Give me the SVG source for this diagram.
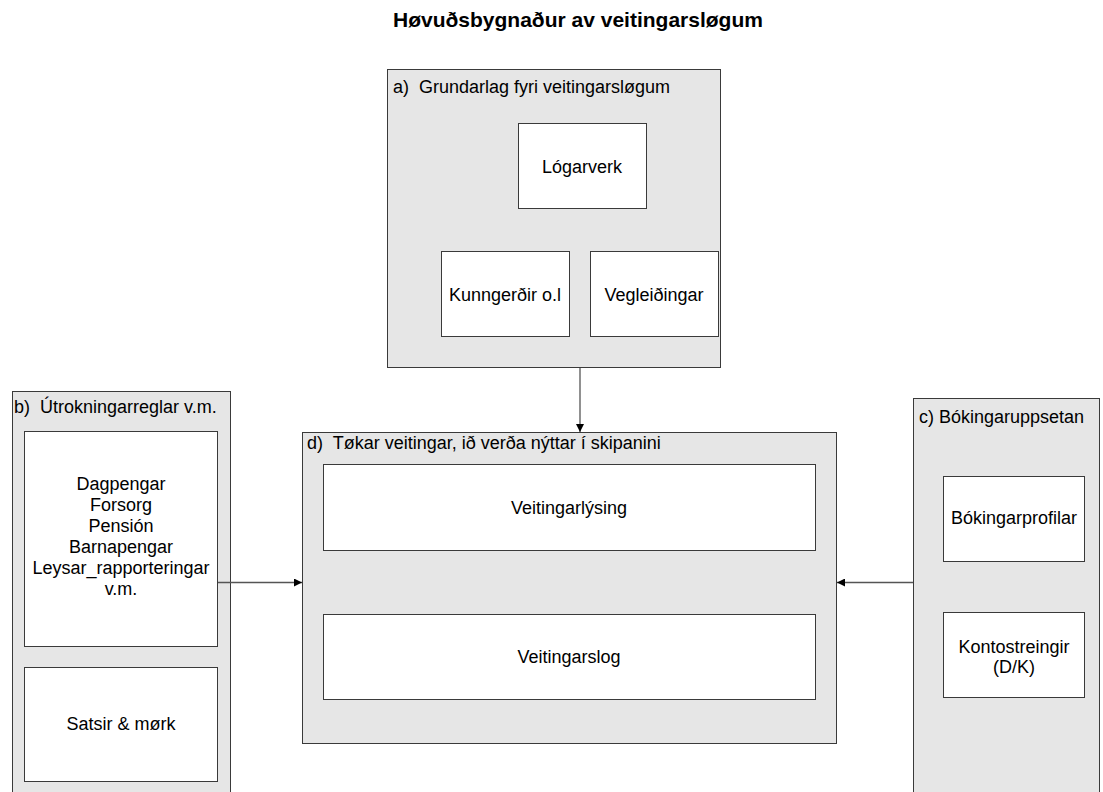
<svg xmlns="http://www.w3.org/2000/svg" width="1103" height="792" viewBox="0 0 1103 792">
<style>
.grp{fill:#e6e6e6;stroke:#3a3a3a;stroke-width:1}
.box{fill:#ffffff;stroke:#3a3a3a;stroke-width:1}
.t{font-family:"Liberation Sans",Arial,sans-serif;font-size:18px;fill:#000}
.c{text-anchor:middle}
.title{font-family:"Liberation Sans",Arial,sans-serif;font-size:21px;font-weight:bold;fill:#000}
.conn{stroke:#555;stroke-width:1.3;fill:none}
</style>
<defs>
<marker id="ah" viewBox="0 0 10 10" refX="10" refY="5" markerWidth="8" markerHeight="8" markerUnits="userSpaceOnUse" orient="auto">
<path d="M0,0 L10,5 L0,10 z" fill="#000"/>
</marker>
</defs>
<rect width="1103" height="792" fill="#ffffff"/>
<text class="title" x="393" y="27">Høvuðsbygnaður av veitingarsløgum</text>

<g id="node-a">
<rect class="grp" x="387.5" y="69.5" width="333" height="298"/>
<text class="t" x="393" y="93" xml:space="preserve">a)  Grundarlag fyri veitingarsløgum</text>
<g id="node-logarverk">
<rect class="box" x="518.5" y="123.5" width="128" height="85"/>
<text class="t c" x="582" y="173">Lógarverk</text>
</g>
<g id="node-kunngerdir">
<rect class="box" x="441.5" y="251.5" width="128" height="85"/>
<text class="t c" x="505" y="301">Kunngerðir o.l</text>
</g>
<g id="node-vegleidingar">
<rect class="box" x="590.5" y="251.5" width="128" height="85"/>
<text class="t c" x="654" y="301">Vegleiðingar</text>
</g>
</g>

<g id="node-b">
<rect class="grp" x="12.5" y="391.5" width="218" height="410"/>
<text class="t" x="14" y="413" xml:space="preserve">b)  Útrokningarreglar v.m.</text>
<g id="node-dagpengar">
<rect class="box" x="24.5" y="431.5" width="193" height="215"/>
<text class="t c" x="121" y="490">Dagpengar</text>
<text class="t c" x="121" y="511">Forsorg</text>
<text class="t c" x="121" y="532">Pensión</text>
<text class="t c" x="121" y="553">Barnapengar</text>
<text class="t c" x="121" y="574">Leysar_rapporteringar</text>
<text class="t c" x="121" y="595">v.m.</text>
</g>
<g id="node-satsir">
<rect class="box" x="24.5" y="667.5" width="193" height="114"/>
<text class="t c" x="121" y="730">Satsir &amp; mørk</text>
</g>
</g>

<g id="node-d">
<rect class="grp" x="302.5" y="432.5" width="534" height="311"/>
<text class="t" x="307" y="449" xml:space="preserve">d)  Tøkar veitingar, ið verða nýttar í skipanini</text>
<g id="node-veitingarlysing">
<rect class="box" x="323.5" y="464.5" width="492" height="86"/>
<text class="t c" x="569" y="514">Veitingarlýsing</text>
</g>
<g id="node-veitingarslog">
<rect class="box" x="323.5" y="614.5" width="492" height="85"/>
<text class="t c" x="569" y="663">Veitingarslog</text>
</g>
</g>

<g id="node-c">
<rect class="grp" x="913.5" y="398.5" width="186" height="403"/>
<text class="t" x="919" y="423">c) Bókingaruppsetan</text>
<g id="node-bokingarprofilar">
<rect class="box" x="943.5" y="476.5" width="141" height="85"/>
<text class="t c" x="1014" y="524">Bókingarprofilar</text>
</g>
<g id="node-kontostreingir">
<rect class="box" x="943.5" y="612.5" width="141" height="85"/>
<text class="t c" x="1014" y="653">Kontostreingir</text>
<text class="t c" x="1014" y="673">(D/K)</text>
</g>
</g>

<g id="connectors">
<line class="conn" x1="580" y1="368" x2="580" y2="432" marker-end="url(#ah)"/>
<line class="conn" x1="218" y1="582.5" x2="302" y2="582.5" marker-end="url(#ah)"/>
<line class="conn" x1="913" y1="582.5" x2="837" y2="582.5" marker-end="url(#ah)"/>
</g>
</svg>
